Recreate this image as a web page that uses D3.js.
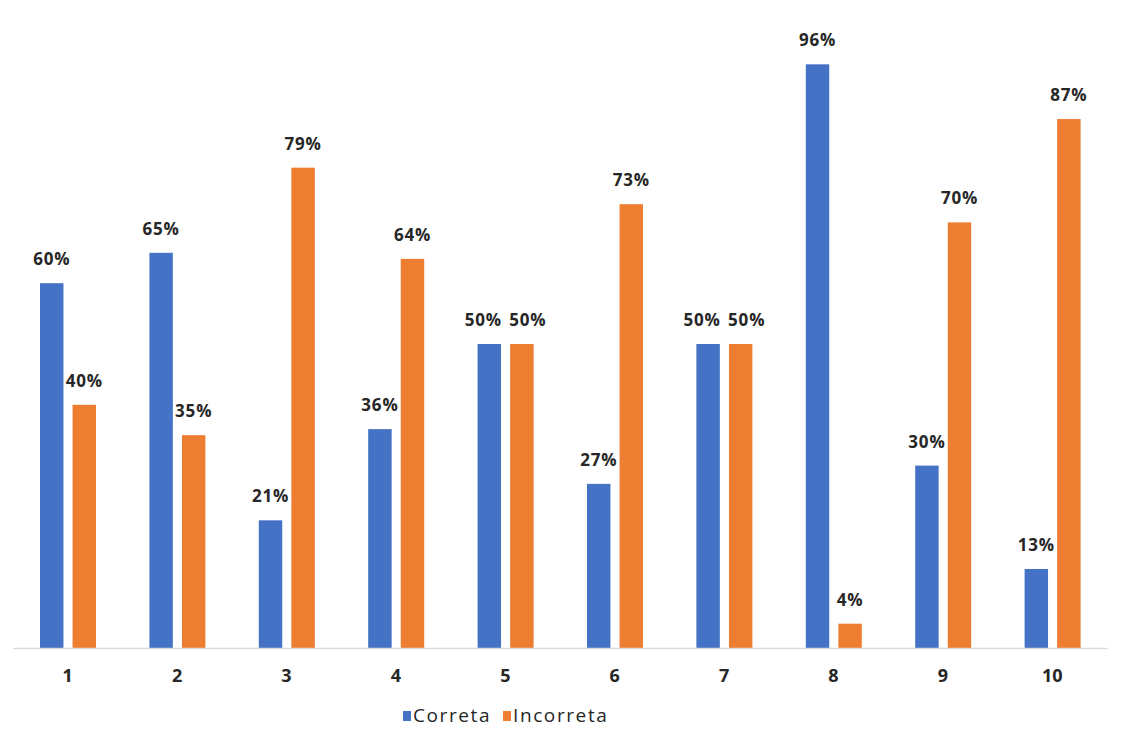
<!DOCTYPE html>
<html>
<head>
<meta charset="utf-8">
<script src="https://cdn.jsdelivr.net/npm/d3@7"></script>
<style>
  body { margin: 0; background: #fff; }
  svg text { font-family: "Open Sans", Lato, sans-serif; fill: #262626; }
</style>
</head>
<body>
<svg class="figure" width="1127" height="742"></svg>
<script>
var categories = ["1", "2", "3", "4", "5", "6", "7", "8", "9", "10"];
var correta = [60, 65, 21, 36, 50, 27, 50, 96, 30, 13];
var incorreta = [40, 35, 79, 64, 50, 73, 50, 4, 70, 87];
var seriesNames = ["Correta", "Incorreta"];
var colors = ["#4472C4", "#ED7D31"];

var svg = d3.select("svg.figure");
var left = 13, right = 1107, baseY = 648, topY = 40;

var x = d3.scaleBand()
  .domain(categories)
  .range([left, right]);

var x1 = d3.scaleBand()
  .domain(seriesNames)
  .range([27, 83])
  .paddingInner(0.28)
  .paddingOuter(0);

var y = d3.scaleLinear()
  .domain([0, 100])
  .range([baseY, topY]);

var rows = categories.map(function(c, i) {
  return {cat: c, values: [correta[i], incorreta[i]]};
});

var groups = svg.selectAll("g.cat")
  .data(rows)
  .enter()
  .append("g")
  .attr("class", "cat")
  .attr("transform", function(d) { return "translate(" + x(d.cat) + ",0)"; });

var bars = groups.selectAll("g.bar")
  .data(function(d) {
    // labels that sit at nearly the same height get pushed apart a little
    var close = Math.abs(y(d.values[0]) - y(d.values[1])) < 20;
    return d.values.map(function(v, j) {
      return {name: seriesNames[j], value: v, color: colors[j], shift: close ? (j ? 6 : -6) : 0};
    });
  })
  .enter()
  .append("g");

bars.append("rect")
  .attr("x", function(d) { return x1(d.name); })
  .attr("y", function(d) { return y(d.value); })
  .attr("width", x1.bandwidth())
  .attr("height", function(d) { return baseY - y(d.value); })
  .attr("fill", function(d) { return d.color; });

bars.append("text")
  .attr("x", function(d) { return x1(d.name) + x1.bandwidth() / 2 + d.shift; })
  .attr("y", function(d) { return y(d.value) - 18; })
  .attr("text-anchor", "middle")
  .attr("font-size", 17)
  .attr("font-weight", "bold")
  .attr("letter-spacing", 0.8)
  .text(function(d) { return d.value + "%"; });

// axis
var axis = svg.append("g")
  .attr("transform", "translate(0," + baseY + ")")
  .call(d3.axisBottom(x).tickSize(0).tickPadding(21));
axis.select(".domain").attr("stroke", "#D9D9D9").attr("stroke-width", 1.5);
axis.selectAll("text")
  .attr("font-size", 18)
  .attr("font-weight", "bold")
  .attr("fill", "#262626")
  .style("font-family", "'Open Sans', Lato, sans-serif");

// legend
var legend = svg.append("g").attr("transform", "translate(403,716)");
var lx = [0, 100];
seriesNames.forEach(function(n, i) {
  legend.append("rect")
    .attr("x", lx[i])
    .attr("y", -5)
    .attr("width", 8)
    .attr("height", 10)
    .attr("fill", colors[i]);
  legend.append("text")
    .attr("x", lx[i] + 10)
    .attr("y", 6)
    .attr("font-size", 19)
    .attr("letter-spacing", 1.6)
    .text(n);
});
</script>
</body>
</html>
